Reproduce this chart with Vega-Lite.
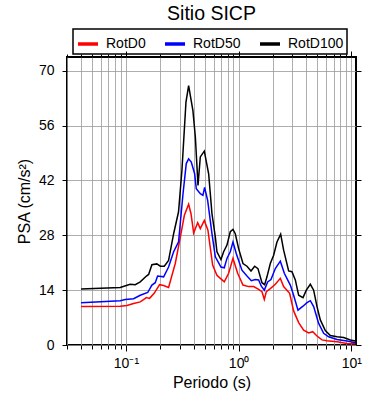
{
  "$schema": "https://vega.github.io/schema/vega-lite/v6.json",
  "autosize": {"type": "none"},
  "width": 289,
  "height": 288,
  "padding": {"left": 67, "top": 57, "right": 34, "bottom": 55},
  "background": "white",
  "config": {
    "font": "Liberation Sans",
    "view": {"stroke": "black", "strokeWidth": 2},
    "axis": {"labelColor": "black", "tickColor": "black", "titleColor": "black", "labelFont": "Liberation Sans", "titleFont": "Liberation Sans", "titleFontWeight": "normal", "domain": false}
  },
  "title": {"text": "Sitio SICP", "fontSize": 19.5, "fontWeight": "normal", "color": "black", "anchor": "middle", "font": "Liberation Sans", "offset": 4},
  "datasets": {
    "psa": [
      {"serie": "RotD0", "periodo": 0.04, "psa": 9.8},
      {"serie": "RotD0", "periodo": 0.089, "psa": 9.9},
      {"serie": "RotD0", "periodo": 0.102, "psa": 10.1},
      {"serie": "RotD0", "periodo": 0.117, "psa": 10.6},
      {"serie": "RotD0", "periodo": 0.134, "psa": 11.0},
      {"serie": "RotD0", "periodo": 0.152, "psa": 12.1},
      {"serie": "RotD0", "periodo": 0.162, "psa": 11.9},
      {"serie": "RotD0", "periodo": 0.178, "psa": 13.2},
      {"serie": "RotD0", "periodo": 0.199, "psa": 15.4},
      {"serie": "RotD0", "periodo": 0.216, "psa": 15.2},
      {"serie": "RotD0", "periodo": 0.239, "psa": 14.7},
      {"serie": "RotD0", "periodo": 0.274, "psa": 20.8},
      {"serie": "RotD0", "periodo": 0.308, "psa": 28.4},
      {"serie": "RotD0", "periodo": 0.33, "psa": 33.1},
      {"serie": "RotD0", "periodo": 0.36, "psa": 35.9},
      {"serie": "RotD0", "periodo": 0.378, "psa": 33.5},
      {"serie": "RotD0", "periodo": 0.399, "psa": 28.6},
      {"serie": "RotD0", "periodo": 0.433, "psa": 31.2},
      {"serie": "RotD0", "periodo": 0.457, "psa": 29.7},
      {"serie": "RotD0", "periodo": 0.496, "psa": 31.8},
      {"serie": "RotD0", "periodo": 0.534, "psa": 29.3},
      {"serie": "RotD0", "periodo": 0.588, "psa": 20.4},
      {"serie": "RotD0", "periodo": 0.642, "psa": 17.8},
      {"serie": "RotD0", "periodo": 0.688, "psa": 17.0},
      {"serie": "RotD0", "periodo": 0.746, "psa": 16.1},
      {"serie": "RotD0", "periodo": 0.815, "psa": 18.3},
      {"serie": "RotD0", "periodo": 0.891, "psa": 22.1},
      {"serie": "RotD0", "periodo": 0.98, "psa": 18.3},
      {"serie": "RotD0", "periodo": 1.093, "psa": 15.3},
      {"serie": "RotD0", "periodo": 1.227, "psa": 14.9},
      {"serie": "RotD0", "periodo": 1.359, "psa": 14.9},
      {"serie": "RotD0", "periodo": 1.505, "psa": 14.2},
      {"serie": "RotD0", "periodo": 1.611, "psa": 13.6},
      {"serie": "RotD0", "periodo": 1.69, "psa": 11.6},
      {"serie": "RotD0", "periodo": 1.76, "psa": 13.6},
      {"serie": "RotD0", "periodo": 1.91, "psa": 14.4},
      {"serie": "RotD0", "periodo": 2.116, "psa": 15.5},
      {"serie": "RotD0", "periodo": 2.344, "psa": 17.0},
      {"serie": "RotD0", "periodo": 2.508, "psa": 14.9},
      {"serie": "RotD0", "periodo": 2.835, "psa": 13.2},
      {"serie": "RotD0", "periodo": 3.076, "psa": 8.7},
      {"serie": "RotD0", "periodo": 3.409, "psa": 5.7},
      {"serie": "RotD0", "periodo": 3.775, "psa": 3.8},
      {"serie": "RotD0", "periodo": 4.182, "psa": 3.1},
      {"serie": "RotD0", "periodo": 4.538, "psa": 3.4},
      {"serie": "RotD0", "periodo": 4.958, "psa": 2.3},
      {"serie": "RotD0", "periodo": 5.489, "psa": 1.3},
      {"serie": "RotD0", "periodo": 6.081, "psa": 1.1},
      {"serie": "RotD0", "periodo": 7.462, "psa": 0.8},
      {"serie": "RotD0", "periodo": 9.153, "psa": 0.4},
      {"serie": "RotD0", "periodo": 10.85, "psa": 0.3},
      {"serie": "RotD50", "periodo": 0.04, "psa": 10.8},
      {"serie": "RotD50", "periodo": 0.089, "psa": 11.3},
      {"serie": "RotD50", "periodo": 0.0986, "psa": 11.6},
      {"serie": "RotD50", "periodo": 0.117, "psa": 11.8},
      {"serie": "RotD50", "periodo": 0.134, "psa": 12.7},
      {"serie": "RotD50", "periodo": 0.156, "psa": 13.4},
      {"serie": "RotD50", "periodo": 0.17, "psa": 15.3},
      {"serie": "RotD50", "periodo": 0.182, "psa": 15.9},
      {"serie": "RotD50", "periodo": 0.191, "psa": 17.6},
      {"serie": "RotD50", "periodo": 0.216, "psa": 17.4},
      {"serie": "RotD50", "periodo": 0.239, "psa": 19.9},
      {"serie": "RotD50", "periodo": 0.265, "psa": 23.8},
      {"serie": "RotD50", "periodo": 0.293, "psa": 26.3},
      {"serie": "RotD50", "periodo": 0.321, "psa": 38.6},
      {"serie": "RotD50", "periodo": 0.343, "psa": 46.3},
      {"serie": "RotD50", "periodo": 0.36, "psa": 47.5},
      {"serie": "RotD50", "periodo": 0.38, "psa": 46.7},
      {"serie": "RotD50", "periodo": 0.407, "psa": 43.7},
      {"serie": "RotD50", "periodo": 0.421, "psa": 39.9},
      {"serie": "RotD50", "periodo": 0.457, "psa": 38.6},
      {"serie": "RotD50", "periodo": 0.482, "psa": 38.2},
      {"serie": "RotD50", "periodo": 0.499, "psa": 40.2},
      {"serie": "RotD50", "periodo": 0.531, "psa": 36.9},
      {"serie": "RotD50", "periodo": 0.58, "psa": 28.4},
      {"serie": "RotD50", "periodo": 0.621, "psa": 22.5},
      {"serie": "RotD50", "periodo": 0.697, "psa": 19.9},
      {"serie": "RotD50", "periodo": 0.746, "psa": 19.7},
      {"serie": "RotD50", "periodo": 0.788, "psa": 22.1},
      {"serie": "RotD50", "periodo": 0.843, "psa": 23.8},
      {"serie": "RotD50", "periodo": 0.891, "psa": 26.3},
      {"serie": "RotD50", "periodo": 0.954, "psa": 23.3},
      {"serie": "RotD50", "periodo": 1.07, "psa": 19.1},
      {"serie": "RotD50", "periodo": 1.186, "psa": 17.6},
      {"serie": "RotD50", "periodo": 1.296, "psa": 16.4},
      {"serie": "RotD50", "periodo": 1.406, "psa": 16.7},
      {"serie": "RotD50", "periodo": 1.505, "psa": 16.6},
      {"serie": "RotD50", "periodo": 1.589, "psa": 15.0},
      {"serie": "RotD50", "periodo": 1.69, "psa": 14.0},
      {"serie": "RotD50", "periodo": 1.809, "psa": 16.1},
      {"serie": "RotD50", "periodo": 1.936, "psa": 16.7},
      {"serie": "RotD50", "periodo": 2.116, "psa": 19.5},
      {"serie": "RotD50", "periodo": 2.344, "psa": 21.4},
      {"serie": "RotD50", "periodo": 2.543, "psa": 18.3},
      {"serie": "RotD50", "periodo": 2.722, "psa": 16.6},
      {"serie": "RotD50", "periodo": 2.874, "psa": 15.3},
      {"serie": "RotD50", "periodo": 3.076, "psa": 12.7},
      {"serie": "RotD50", "periodo": 3.363, "psa": 8.9},
      {"serie": "RotD50", "periodo": 3.724, "psa": 9.9},
      {"serie": "RotD50", "periodo": 4.042, "psa": 10.8},
      {"serie": "RotD50", "periodo": 4.327, "psa": 11.3},
      {"serie": "RotD50", "periodo": 4.631, "psa": 9.8},
      {"serie": "RotD50", "periodo": 5.13, "psa": 5.5},
      {"serie": "RotD50", "periodo": 5.68, "psa": 3.0},
      {"serie": "RotD50", "periodo": 6.292, "psa": 2.1},
      {"serie": "RotD50", "periodo": 7.462, "psa": 1.4},
      {"serie": "RotD50", "periodo": 9.153, "psa": 1.0},
      {"serie": "RotD50", "periodo": 10.85, "psa": 0.6},
      {"serie": "RotD100", "periodo": 0.04, "psa": 14.3},
      {"serie": "RotD100", "periodo": 0.089, "psa": 14.7},
      {"serie": "RotD100", "periodo": 0.109, "psa": 15.5},
      {"serie": "RotD100", "periodo": 0.121, "psa": 15.4},
      {"serie": "RotD100", "periodo": 0.134, "psa": 16.1},
      {"serie": "RotD100", "periodo": 0.152, "psa": 17.6},
      {"serie": "RotD100", "periodo": 0.159, "psa": 18.0},
      {"serie": "RotD100", "periodo": 0.17, "psa": 20.5},
      {"serie": "RotD100", "periodo": 0.188, "psa": 20.7},
      {"serie": "RotD100", "periodo": 0.202, "psa": 20.1},
      {"serie": "RotD100", "periodo": 0.219, "psa": 20.1},
      {"serie": "RotD100", "periodo": 0.239, "psa": 21.6},
      {"serie": "RotD100", "periodo": 0.265, "psa": 28.4},
      {"serie": "RotD100", "periodo": 0.293, "psa": 34.0},
      {"serie": "RotD100", "periodo": 0.314, "psa": 44.6},
      {"serie": "RotD100", "periodo": 0.341, "psa": 62.0},
      {"serie": "RotD100", "periodo": 0.36, "psa": 66.2},
      {"serie": "RotD100", "periodo": 0.393, "psa": 59.8},
      {"serie": "RotD100", "periodo": 0.413, "psa": 53.1},
      {"serie": "RotD100", "periodo": 0.436, "psa": 40.7},
      {"serie": "RotD100", "periodo": 0.457, "psa": 48.0},
      {"serie": "RotD100", "periodo": 0.496, "psa": 49.5},
      {"serie": "RotD100", "periodo": 0.542, "psa": 43.7},
      {"serie": "RotD100", "periodo": 0.58, "psa": 33.5},
      {"serie": "RotD100", "periodo": 0.621, "psa": 27.6},
      {"serie": "RotD100", "periodo": 0.642, "psa": 23.8},
      {"serie": "RotD100", "periodo": 0.697, "psa": 21.8},
      {"serie": "RotD100", "periodo": 0.736, "psa": 23.8},
      {"serie": "RotD100", "periodo": 0.788, "psa": 25.5},
      {"serie": "RotD100", "periodo": 0.843, "psa": 28.9},
      {"serie": "RotD100", "periodo": 0.891, "psa": 29.5},
      {"serie": "RotD100", "periodo": 0.934, "psa": 28.4},
      {"serie": "RotD100", "periodo": 1.0, "psa": 24.6},
      {"serie": "RotD100", "periodo": 1.093, "psa": 20.8},
      {"serie": "RotD100", "periodo": 1.186, "psa": 20.1},
      {"serie": "RotD100", "periodo": 1.287, "psa": 18.9},
      {"serie": "RotD100", "periodo": 1.387, "psa": 20.1},
      {"serie": "RotD100", "periodo": 1.484, "psa": 19.5},
      {"serie": "RotD100", "periodo": 1.611, "psa": 15.9},
      {"serie": "RotD100", "periodo": 1.701, "psa": 15.4},
      {"serie": "RotD100", "periodo": 1.784, "psa": 17.4},
      {"serie": "RotD100", "periodo": 1.91, "psa": 20.8},
      {"serie": "RotD100", "periodo": 2.045, "psa": 22.9},
      {"serie": "RotD100", "periodo": 2.189, "psa": 26.3},
      {"serie": "RotD100", "periodo": 2.36, "psa": 28.3},
      {"serie": "RotD100", "periodo": 2.508, "psa": 24.2},
      {"serie": "RotD100", "periodo": 2.778, "psa": 18.9},
      {"serie": "RotD100", "periodo": 2.973, "psa": 18.7},
      {"serie": "RotD100", "periodo": 3.184, "psa": 16.6},
      {"serie": "RotD100", "periodo": 3.409, "psa": 12.7},
      {"serie": "RotD100", "periodo": 3.724, "psa": 12.1},
      {"serie": "RotD100", "periodo": 3.987, "psa": 14.0},
      {"serie": "RotD100", "periodo": 4.327, "psa": 15.5},
      {"serie": "RotD100", "periodo": 4.631, "psa": 14.0},
      {"serie": "RotD100", "periodo": 4.958, "psa": 9.8},
      {"serie": "RotD100", "periodo": 5.307, "psa": 6.4},
      {"serie": "RotD100", "periodo": 5.877, "psa": 3.7},
      {"serie": "RotD100", "periodo": 6.51, "psa": 2.4},
      {"serie": "RotD100", "periodo": 7.462, "psa": 2.1},
      {"serie": "RotD100", "periodo": 8.551, "psa": 1.9},
      {"serie": "RotD100", "periodo": 9.797, "psa": 1.3},
      {"serie": "RotD100", "periodo": 10.85, "psa": 1.0}
    ]
  },
  "data": {"name": "psa"},
  "layer": [
    {
      "mark": {"type": "line", "strokeWidth": 1.5},
      "encoding": {
        "x": {
          "field": "periodo", "type": "quantitative",
          "scale": {"type": "log", "domain": [0.03, 11], "nice": false},
          "axis": {
            "orient": "bottom",
            "values": [0.03, 0.04, 0.05, 0.06, 0.07, 0.08, 0.09, 0.1, 0.2, 0.3, 0.4, 0.5, 0.6, 0.7, 0.8, 0.9, 1, 2, 3, 4, 5, 6, 7, 8, 9, 10],
            "labelExpr": "datum.value == 0.1 ? '10⁻¹' : datum.value == 1 ? '10⁰' : datum.value == 10 ? '10¹' : ''",
            "labelFontSize": 14,
            "labelPadding": 5,
            "labelFlush": false,
            "labelOverlap": false,
            "tickSize": {"condition": {"test": "datum.value == 0.1 || datum.value == 1 || datum.value == 10", "value": 6}, "value": 4},
            "tickWidth": 1,
            "grid": true, "gridColor": "#999999", "gridWidth": 0.8,
            "title": "Periodo (s)", "titleFontSize": 16, "titlePadding": 4
          }
        },
        "y": {
          "field": "psa", "type": "quantitative",
          "scale": {"domain": [0, 73.5], "nice": false},
          "axis": {
            "orient": "left",
            "values": [0, 14, 28, 42, 56, 70],
            "labelFontSize": 14,
            "labelPadding": 8,
            "tickSize": 5,
            "tickWidth": 1,
            "grid": true, "gridColor": "#999999", "gridWidth": 0.8,
            "title": "PSA (cm/s²)", "titleFontSize": 16, "titlePadding": 6
          }
        },
        "color": {
          "field": "serie", "type": "nominal",
          "scale": {"domain": ["RotD0", "RotD50", "RotD100"], "range": ["#ff0000", "#0000ff", "#000000"]},
          "legend": {
            "orient": "none", "legendX": 6, "legendY": -28,
            "direction": "horizontal", "title": null,
            "symbolType": "stroke", "symbolStrokeWidth": 3.5, "symbolSize": 400,
            "labelFontSize": 14, "labelFont": "Liberation Sans", "labelColor": "black", "labelOffset": 6,
            "columnPadding": 12, "padding": 3,
            "strokeColor": "black",
            "encode": {"legend": {"update": {"strokeWidth": {"value": 1.5}}}}
          }
        }
      }
    },
    {
      "mark": {"type": "line", "strokeOpacity": 0},
      "encoding": {
        "x": {
          "field": "periodo", "type": "quantitative",
          "axis": {
            "orient": "top",
            "values": [0.03, 0.04, 0.05, 0.06, 0.07, 0.08, 0.09, 0.1, 0.2, 0.3, 0.4, 0.5, 0.6, 0.7, 0.8, 0.9, 1, 2, 3, 4, 5, 6, 7, 8, 9, 10],
            "labels": false, "grid": false, "title": null,
            "tickSize": {"condition": {"test": "datum.value == 0.1 || datum.value == 1 || datum.value == 10", "value": 6}, "value": 3},
            "tickWidth": 1
          }
        },
        "y": {
          "field": "psa", "type": "quantitative",
          "axis": {
            "orient": "right",
            "values": [0, 14, 28, 42, 56, 70],
            "labels": false, "grid": false, "title": null,
            "tickSize": 5, "tickWidth": 1
          }
        },
        "detail": {"field": "serie"}
      }
    }
  ],
  "resolve": {"axis": {"x": "independent", "y": "independent"}}
}
